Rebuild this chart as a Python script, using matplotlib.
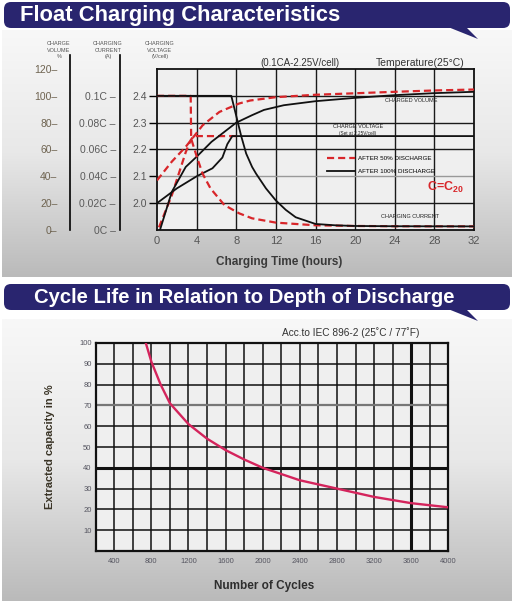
import numpy as np
import matplotlib
matplotlib.use('Agg')
import matplotlib.pyplot as plt
from matplotlib.patches import FancyBboxPatch, Polygon
from matplotlib.colors import LinearSegmentedColormap
from matplotlib.lines import Line2D

plt.rcParams['font.family'] = ['Liberation Sans', 'DejaVu Sans']

# ---- float charging data ----
t_cur100 = [0, 7.5, 8.0, 8.5, 9.0, 9.6, 10, 11, 12, 13, 14, 16, 18, 20, 24, 32]
cur100 = [0.1, 0.1, 0.085, 0.070, 0.057, 0.047, 0.042, 0.031, 0.022, 0.015, 0.0095,
          0.0045, 0.0035, 0.003, 0.0028, 0.0027]

t_cur50 = [0, 3.4, 3.45, 4.0, 4.6, 5.4, 6.8, 8.3, 9.6, 12, 16, 20, 24, 32]
cur50 = [0.1, 0.1, 0.068, 0.055, 0.042, 0.031, 0.0186, 0.0124, 0.0087, 0.0055,
         0.0035, 0.003, 0.0028, 0.0027]

t_volt100 = [0, 2.0, 4.0, 5.6, 6.6, 7.1, 7.6, 32]
volt100 = [2.0, 2.055, 2.10, 2.13, 2.17, 2.22, 2.25, 2.25]

t_volt50 = [0.2, 1.5, 2.9, 3.4, 3.7, 8.0]
volt50 = [1.91, 2.03, 2.19, 2.235, 2.25, 2.25]

t_vol100 = [0.3, 1.5, 2.9, 4.0, 5.5, 8.0, 9.6, 10.8, 12.8, 16, 20, 24, 28, 32]
vol100 = [0, 28.5, 47, 54.6, 65.7, 80, 85.6, 89.5, 93, 96, 98.5, 100.5, 102, 103]

t_vol50 = [0, 1.5, 2.9, 4.6, 6.3, 8.3, 9.4, 12, 16, 19.6, 24, 28, 32]
vol50 = [37, 51, 62, 78, 88, 94.3, 96.5, 99, 100.8, 101.8, 103, 104, 104.7]

hour_ticks = [0, 4, 8, 12, 16, 20, 24, 28, 32]
volt_ticks = [2.0, 2.1, 2.2, 2.3, 2.4]
vol_ticks = [0, 20, 40, 60, 80, 100, 120]
cur_ticks = [0, 0.02, 0.04, 0.06, 0.08, 0.1]
cur_labels = ['0C', '0.02C', '0.04C', '0.06C', '0.08C', '0.1C']

# ---- cycle life data ----
cycles = [740, 800, 900, 1000, 1200, 1400, 1600, 1800, 2000, 2400, 2800, 3200, 3600, 4000]
capacity = [100, 91, 80, 71, 61, 54, 48.5, 44, 40, 34, 30, 26, 23, 21]
cycle_ticks = [400, 800, 1200, 1600, 2000, 2400, 2800, 3200, 3600, 4000]
cap_ticks = [10, 20, 30, 40, 50, 60, 70, 80, 90, 100]

W, H = 516, 605
PT = 72 / 100
fig = plt.figure(figsize=(W / 100, H / 100), dpi=100)


def box(l, t, r, b):
    return [l / W, 1 - b / H, (r - l) / W, (b - t) / H]


# ---- background, banners ----
bg = fig.add_axes([0, 0, 1, 1])
bg.axis('off')
gcmap = LinearSegmentedColormap.from_list('panel', ['#f8f8f8', '#e8e8e8', '#bababa'])
grad = np.linspace(0, 1, 256)[:, None]
for top, bot in [(30, 277), (319, 601)]:
    bg.imshow(grad, extent=[2, 512, bot, top], cmap=gcmap, aspect='auto', origin='upper')

navy = '#29256f'
for y0 in [2, 284]:
    bg.add_patch(FancyBboxPatch((4, y0), 506, 26, boxstyle='round,pad=0,rounding_size=7',
                                fc=navy, ec='none'))
    bg.add_patch(Polygon([(448, y0 + 25), (478, y0 + 37), (466, y0 + 25)],
                         closed=True, fc=navy, ec='none'))
bg.text(20, 15.5, 'Float Charging Characteristics', color='white', fontsize=15.8,
        fontweight='bold', va='center')
bg.text(34, 297.5, 'Cycle Life in Relation to Depth of Discharge', color='white',
        fontsize=14.6, fontweight='bold', va='center')

# header texts of top chart
hdr = dict(fontsize=4, color='#555555', ha='center', va='center', linespacing=1.3)
bg.text(59, 50, 'CHARGE\nVOLUME\n%', **hdr)
bg.text(108, 50, 'CHARGING\nCURRENT\n(A)', **hdr)
bg.text(160, 50, 'CHARGING\nVOLTAGE\n(V/cell)', **hdr)
bg.text(300, 63, '(0.1CA-2.25V/cell)', fontsize=7, color='#333333', ha='center', va='center')
bg.text(420, 63, 'Temperature(25°C)', fontsize=7.5, color='#333333', ha='center', va='center')
bg.text(279, 262, 'Charging Time (hours)', fontsize=8.5, fontweight='bold',
        color='#3a3a3a', ha='center', va='center')

# bottom chart texts
bg.text(351, 333, 'Acc.to IEC 896-2 (25˚C / 77˚F)', fontsize=7.3, color='#333333',
        ha='center', va='center')
bg.text(50, 447, 'Extracted capacity in %', fontsize=8, fontweight='bold',
        color='#3a3426', rotation=90, ha='center', va='center')
bg.text(264, 586, 'Number of Cycles', fontsize=8.5, fontweight='bold',
        color='#2e2e2e', ha='center', va='center')
bg.set_xlim(0, W)
bg.set_ylim(H, 0)

# ---- top chart: voltage axes (main frame) ----
red = '#d8262a'
dash = (3.2, 1.8)

ax_v = fig.add_axes(box(157, 69, 474, 230))
ax_v.set_facecolor('#efefef')
ax_v.set_xlim(0, 32)
ax_v.set_ylim(1.9, 2.5)
for t in hour_ticks[1:-1]:
    ax_v.axvline(t, color='#1a1a1a', lw=1.0, zorder=1)
for v in volt_ticks:
    ax_v.axhline(v, color='#999999' if v == 2.1 else '#1a1a1a', lw=1.0, zorder=1)
ax_v.plot(t_volt50, volt50, color=red, lw=1.6, dashes=dash, zorder=3)
ax_v.plot(t_volt100, volt100, color='#111111', lw=1.3, zorder=4)
ax_v.set_xticks(hour_ticks)
ax_v.set_yticks(volt_ticks)
ax_v.set_yticklabels([f'{v:.1f}' for v in volt_ticks])
ax_v.tick_params(axis='x', length=0, pad=4, labelsize=8, labelcolor='#555555')
ax_v.tick_params(axis='y', length=6, width=1, pad=1, labelsize=7.5, labelcolor='#555555')
for s in ax_v.spines.values():
    s.set_linewidth(1.3)
    s.set_color('#111111')

handles = [Line2D([], [], color=red, lw=1.6, dashes=dash),
           Line2D([], [], color='#111111', lw=1.3)]
ax_v.legend(handles, ['AFTER 50% DISCHARGE', 'AFTER 100% DISCHARGE'],
            loc='center left', bbox_to_anchor=(0.535, 0.404), frameon=False,
            fontsize=4.5, handlelength=4.5, handletextpad=0.6, labelspacing=1.25,
            borderpad=0, borderaxespad=0)

# ---- volume axes ----
ax_vol = fig.add_axes(box(157, 55, 474, 230))
ax_vol.patch.set_visible(False)
ax_vol.set_xlim(0, 32)
ax_vol.set_ylim(0, 175 / 1.3417)
for s in ['top', 'right', 'bottom']:
    ax_vol.spines[s].set_visible(False)
ax_vol.spines['left'].set_position(('outward', 87 * PT))
ax_vol.spines['left'].set_linewidth(1.2)
ax_vol.plot(t_vol50, vol50, color=red, lw=1.6, dashes=dash, zorder=3)
ax_vol.plot(t_vol100, vol100, color='#111111', lw=1.3, zorder=4)
ax_vol.set_xticks([])
ax_vol.set_yticks(vol_ticks)
ax_vol.set_yticklabels([f'{v}–' for v in vol_ticks])
ax_vol.tick_params(axis='y', length=0, pad=9, labelsize=7.5, labelcolor='#6e6350')

# ---- current axes ----
ax_cur = fig.add_axes(box(157, 55, 474, 230))
ax_cur.patch.set_visible(False)
ax_cur.set_xlim(0, 32)
ax_cur.set_ylim(0, 0.1 * 175 / 1.3417 / 100)
for s in ['top', 'right', 'bottom']:
    ax_cur.spines[s].set_visible(False)
ax_cur.spines['left'].set_position(('outward', 37 * PT))
ax_cur.spines['left'].set_linewidth(1.2)
ax_cur.plot(t_cur50, cur50, color=red, lw=1.6, dashes=dash, zorder=3)
ax_cur.plot(t_cur100, cur100, color='#111111', lw=1.3, zorder=4)
ax_cur.set_xticks([])
ax_cur.set_yticks(cur_ticks)
ax_cur.set_yticklabels([f'{c} –' for c in cur_labels])
ax_cur.tick_params(axis='y', length=0, pad=3, labelsize=7.5, labelcolor='#5a5a5a')

# ---- bottom chart ----
ax2 = fig.add_axes(box(95.7, 343, 448.3, 551))
ax2.set_facecolor('#efefef')
ax2.set_xlim(200, 4000)
ax2.set_ylim(0, 100)
for c in range(400, 4000, 200):
    ax2.axvline(c, color='#111111', lw=2.2 if c == 3600 else 1.1, zorder=1)
for p in cap_ticks[:-1]:
    if p == 40:
        ax2.axhline(p, color='#111111', lw=2.2, zorder=1)
    elif p == 70:
        ax2.axhline(p, color='#777777', lw=1.6, zorder=1)
    else:
        ax2.axhline(p, color='#111111', lw=1.1, zorder=1)
ax2.plot(cycles, capacity, color='#d4245c', lw=1.7, zorder=3)
ax2.set_xticks(cycle_ticks)
ax2.set_yticks(cap_ticks)
ax2.tick_params(length=0, labelsize=5.5, labelcolor='#555560')
ax2.tick_params(axis='x', pad=5)
ax2.tick_params(axis='y', pad=3)
for s in ax2.spines.values():
    s.set_linewidth(1.6)
    s.set_color('#111111')

# ---- labels drawn inside the top chart (overlay so the plot face does not hide them) ----
fg = fig.add_axes([0, 0, 1, 1])
fg.axis('off')
fg.patch.set_visible(False)
fg.set_xlim(0, W)
fg.set_ylim(H, 0)
small = dict(fontsize=4, color='#222222', ha='center', va='center')
fg.text(411, 101, 'CHARGED VOLUME', **small)
fg.text(358, 127, 'CHARGE VOLTAGE', **small)
fg.text(358, 133, '(Set at 2.25V/cell)', fontsize=3.3, color='#222222', ha='center', va='center')
fg.text(410, 216, 'CHARGING CURRENT', **small)
fg.text(427, 187, r'C=C$_{\mathregular{20}}$', fontsize=9, color='#d8262a',
        fontweight='bold', va='center')

fig.savefig('out.png', dpi=100)
